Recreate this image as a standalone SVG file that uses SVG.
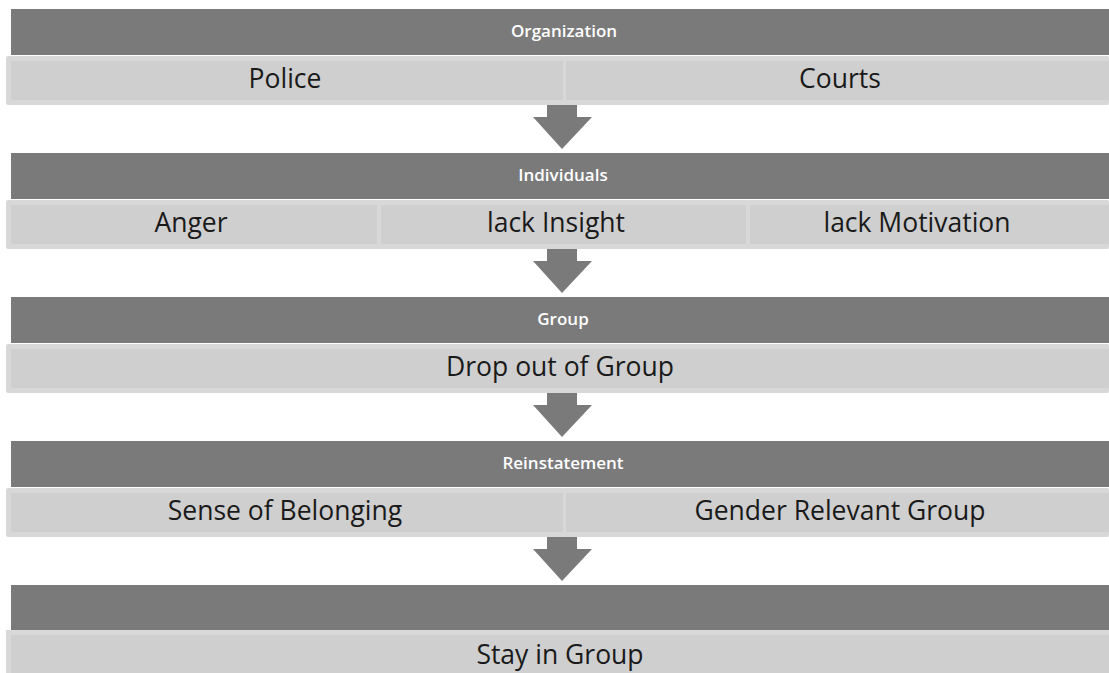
<svg xmlns="http://www.w3.org/2000/svg" width="1109" height="673" viewBox="0 0 1109 673">
<style>
.bar{fill:#7a7a7a}
.outer{fill:#d8d8d8}
.cell{fill:#cfcfcf}
.hd{font-family:"Open Sans","Liberation Sans",sans-serif;font-size:17px;font-weight:600;fill:#ffffff;text-anchor:middle}
.tx{font-family:"Open Sans","Liberation Sans",sans-serif;font-size:26.5px;fill:#1a1a1a;text-anchor:middle}
.arr{fill:#7a7a7a}
</style>
<rect width="1109" height="673" fill="#ffffff"/>
<g id="row1">
<rect class="bar" x="11" y="9" width="1098" height="46"/>
<text class="hd" x="564" y="37">Organization</text>
<rect class="outer" x="6" y="56" width="1103" height="49" rx="2"/>
<rect class="cell" x="11" y="61" width="552" height="39"/>
<rect class="cell" x="566" y="61" width="543" height="39"/>
<text class="tx" x="285" y="88">Police</text>
<text class="tx" x="840" y="88">Courts</text>
</g>
<g id="row2">
<rect class="bar" x="11" y="153" width="1098" height="46"/>
<text class="hd" x="563" y="181">Individuals</text>
<rect class="outer" x="6" y="200" width="1103" height="49" rx="2"/>
<rect class="cell" x="11" y="205" width="366" height="39"/>
<rect class="cell" x="381" y="205" width="365" height="39"/>
<rect class="cell" x="750" y="205" width="359" height="39"/>
<text class="tx" x="191" y="232">Anger</text>
<text class="tx" x="556" y="232">lack Insight</text>
<text class="tx" x="917" y="232">lack Motivation</text>
</g>
<g id="row3">
<rect class="bar" x="11" y="297" width="1098" height="46"/>
<text class="hd" x="563" y="325">Group</text>
<rect class="outer" x="6" y="344" width="1103" height="49" rx="2"/>
<rect class="cell" x="11" y="349" width="1098" height="39"/>
<text class="tx" x="560" y="376">Drop out of Group</text>
</g>
<g id="row4">
<rect class="bar" x="11" y="441" width="1098" height="46"/>
<text class="hd" x="563" y="469">Reinstatement</text>
<rect class="outer" x="6" y="488" width="1103" height="49" rx="2"/>
<rect class="cell" x="11" y="493" width="552" height="39"/>
<rect class="cell" x="566" y="493" width="543" height="39"/>
<text class="tx" x="285" y="520">Sense of Belonging</text>
<text class="tx" x="840" y="520">Gender Relevant Group</text>
</g>
<g id="row5">
<rect class="bar" x="11" y="585" width="1098" height="45"/>
<rect class="outer" x="6" y="630" width="1103" height="43"/>
<rect class="cell" x="11" y="635" width="1098" height="38"/>
<text class="tx" x="560" y="664">Stay in Group</text>
</g>
<g id="connectors">
<polygon class="arr" points="547,105 577,105 577,117 592,117 562,149 533,117 547,117"/>
<polygon class="arr" points="547,249 577,249 577,261 592,261 562,293 533,261 547,261"/>
<polygon class="arr" points="547,393 577,393 577,405 592,405 562,437 533,405 547,405"/>
<polygon class="arr" points="547,537 577,537 577,549 592,549 562,581 533,549 547,549"/>
</g>
</svg>
